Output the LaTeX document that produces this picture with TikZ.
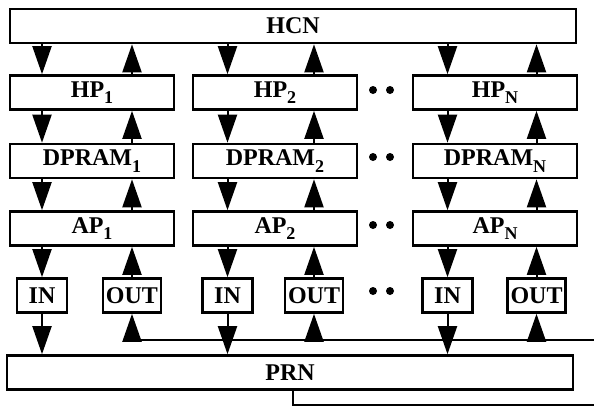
\documentclass[tikz,border=0pt]{standalone}
\usepackage{fontspec}
\setmainfont{Liberation Serif}
\usetikzlibrary{arrows.meta,positioning}
\newcommand{\idx}[1]{\raisebox{-3.2pt}{\fontsize{9}{9}\selectfont #1}}

\begin{document}
\begin{tikzpicture}[x=0.5pt,y=-0.5pt,
	box/.style={draw,line width=1.3pt,minimum height=17pt,inner sep=0pt,font=\bfseries\fontsize{12}{13}\selectfont},
	wide/.style={box,minimum width=82pt},
	tri/.style={-{Triangle[width=9.5pt,length=14pt]},line width=1pt}]
	\useasboundingbox (0,0) rectangle (594,409);
	\node[box,minimum width=283pt] (hcn) at (293,26) {HCN};
	\node[box,minimum width=283pt] (prn) at (290,372.5) {PRN};
	\coordinate (bus) at (123,340);
	\coordinate (busend) at (594,340);
	\coordinate (ret) at (594,405);
	\foreach \c/\x/\i/\o/\s in {1/92/42/132/1, 2/275/227.5/314/2, n/495/447.5/536.5/N} {
		\node[wide] (hp\c) at (\x,92.5) {HP\idx{\s}};
		\node[wide] (dp\c) at (\x,161) {DPRAM\idx{\s}};
		\node[wide] (ap\c) at (\x,228.5) {AP\idx{\s}};
		\node[box,minimum width=25pt] (in\c) at (\i,295.5) {IN};
		\node[box,minimum width=29pt] (out\c) at (\o,295.5) {OUT};
		\draw[tri] (hcn.south -| in\c) -- (hp\c.north -| in\c);
		\draw[tri] (hp\c.north -| out\c) -- (hcn.south -| out\c);
		\draw[tri] (hp\c.south -| in\c) -- (dp\c.north -| in\c);
		\draw[tri] (dp\c.north -| out\c) -- (hp\c.south -| out\c);
		\draw[tri] (dp\c.south -| in\c) -- (ap\c.north -| in\c);
		\draw[tri] (ap\c.north -| out\c) -- (dp\c.south -| out\c);
		\draw[tri] (ap\c.south -| in\c) -- (in\c);
		\draw[tri] (out\c) -- (ap\c.south -| out\c);
		\draw[tri] (in\c) -- (prn.north -| in\c);
		\draw[tri] (bus -| out\c) -- (out\c);
	}
	\draw[line width=1.1pt] (bus) -- (busend);
	\draw[line width=1.1pt] (prn.south) ++(3,0) |- (ret);
	\foreach \y in {90,157,225,291}
		\fill (373,\y) circle (2pt) (390,\y) circle (2pt);
\end{tikzpicture}
\end{document}
